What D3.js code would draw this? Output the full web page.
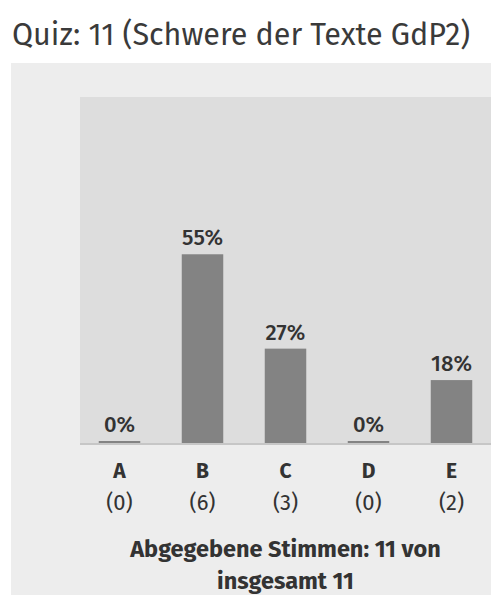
<!DOCTYPE html>
<html>
<head>
<meta charset="utf-8">
<style>
  body { margin: 0; background: #fff; }
  svg { display: block; }
  text { font-family: "Fira Sans", "Open Sans", "Noto Sans", sans-serif; fill: #333; }
</style>
</head>
<body>
<svg width="491" height="595"></svg>
<script src="https://d3js.org/d3.v7.min.js"></script>
<script>

// data
const categories = ["A", "B", "C", "D", "E"];
const votes = [0, 6, 3, 0, 2];
const totalVotes = 11;
const totalUsers = 11;
const title = "Quiz: 11 (Schwere der Texte GdP2)";

const svg = d3.select("svg"),
    width = +svg.attr("width"),
    height = +svg.attr("height");

const plotTop = 97, baseY = 443;

// panels
svg.append("rect")
  .attr("x", 11).attr("y", 63)
  .attr("width", width - 11).attr("height", height - 63)
  .attr("fill", "#ededed");

svg.append("rect")
  .attr("x", 80).attr("y", plotTop)
  .attr("width", width - 80).attr("height", baseY - plotTop)
  .attr("fill", "#dddddd");

svg.append("text")
  .attr("x", 12).attr("y", 45)
  .style("font-size", "30.5px")
  .style("fill", "#3a3a3a")
  .text(title);

// scales
const x = d3.scaleBand()
  .domain(categories)
  .range([78, 493])
  .paddingInner(0.5)
  .paddingOuter(0.25);

const y = d3.scaleLinear()
  .domain([0, 100])
  .range([baseY, plotTop]);

const pct = votes.map(v => v / totalVotes * 100);

// bars
svg.append("g").selectAll("rect")
  .data(categories)
  .join("rect")
  .attr("x", d => x(d))
  .attr("width", x.bandwidth())
  .attr("y", (d, i) => Math.min(y(pct[i]), baseY - 2))
  .attr("height", (d, i) => Math.max(baseY - y(pct[i]), 2))
  .attr("fill", "#838383");

// axis line
svg.append("line")
  .attr("x1", 80).attr("x2", width)
  .attr("y1", baseY + 1).attr("y2", baseY + 1)
  .attr("stroke", "#c6c6c6")
  .attr("stroke-width", 2);

// value labels
svg.append("g").selectAll("text")
  .data(categories)
  .join("text")
  .attr("x", d => x(d) + x.bandwidth() / 2)
  .attr("y", (d, i) => Math.min(y(pct[i]), baseY - 2) - 9)
  .attr("text-anchor", "middle")
  .style("font-size", "22px")
  .style("font-weight", 500)
  .text((d, i) => Math.round(pct[i]) + "%");

// category labels
svg.append("g").selectAll("text")
  .data(categories)
  .join("text")
  .attr("x", d => x(d) + x.bandwidth() / 2)
  .attr("y", 478)
  .attr("text-anchor", "middle")
  .style("font-size", "21px")
  .style("font-weight", "bold")
  .text(d => d);

svg.append("g").selectAll("text")
  .data(categories)
  .join("text")
  .attr("x", d => x(d) + x.bandwidth() / 2)
  .attr("y", 510)
  .attr("text-anchor", "middle")
  .style("font-size", "22px")
  .text((d, i) => "(" + votes[i] + ")");

// footer
const cx = (80 + width) / 2;
svg.append("text")
  .attr("x", cx).attr("y", 557)
  .attr("text-anchor", "middle")
  .style("font-size", "23.5px")
  .style("font-weight", "bold")
  .text("Abgegebene Stimmen: " + totalVotes + " von");
svg.append("text")
  .attr("x", cx).attr("y", 589)
  .attr("text-anchor", "middle")
  .style("font-size", "23.5px")
  .style("font-weight", "bold")
  .text("insgesamt " + totalUsers);

</script>
</body>
</html>
